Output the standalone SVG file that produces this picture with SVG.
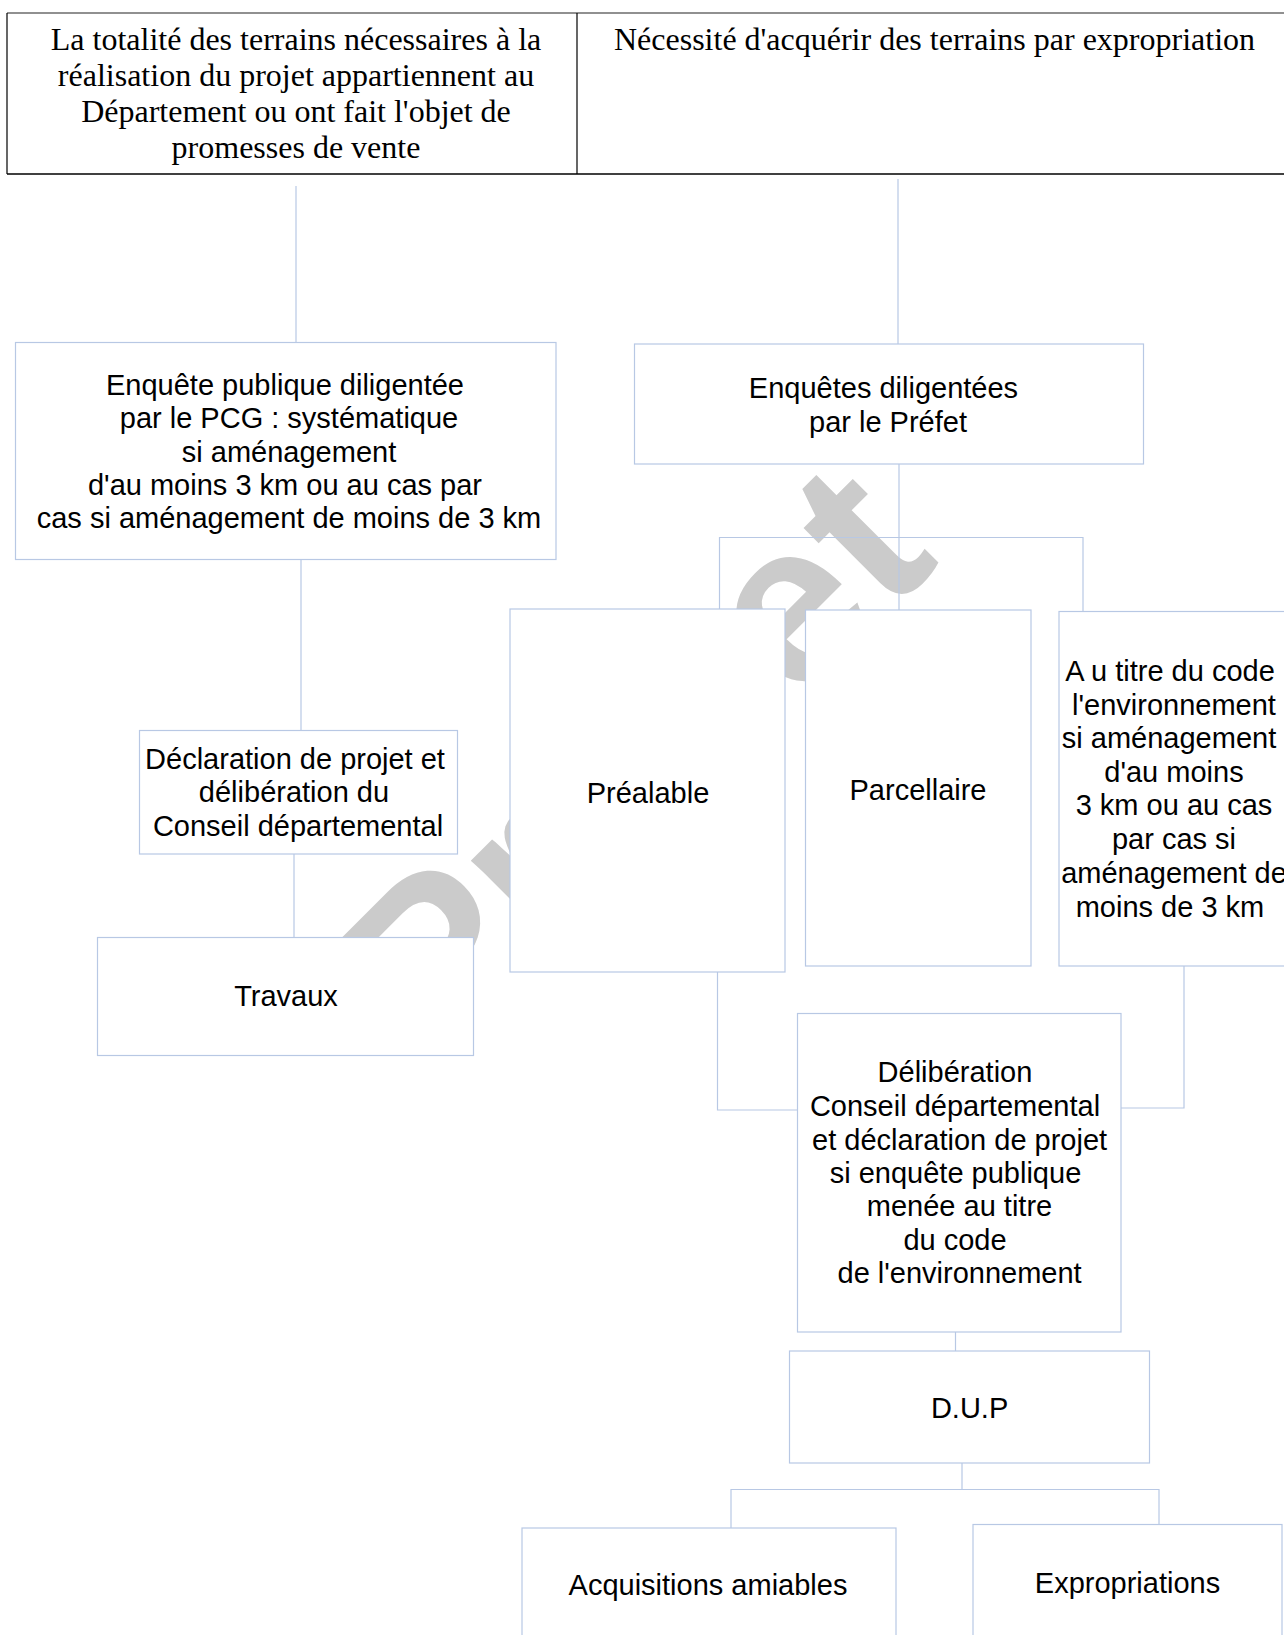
<svg xmlns="http://www.w3.org/2000/svg" width="1284" height="1635" viewBox="0 0 1284 1635">
<style>
.serif{font-family:"Liberation Serif","Times New Roman",serif;font-size:32px;fill:#000;text-anchor:middle}
.lbl{font-family:"Liberation Sans",Arial,sans-serif;font-size:29px;fill:#000;text-anchor:middle}
.box{fill:#fff;stroke:#b8c8e4;stroke-width:1.2}
.con{fill:none;stroke:#b8c8e4;stroke-width:1.2}
.wm{font-family:"Liberation Sans",Arial,sans-serif;font-weight:bold;font-size:230px;fill:#cbcbcb}
</style>
<rect width="1284" height="1635" fill="#fff"/>

<g id="watermark">
<text class="wm" transform="rotate(-45)" x="-444 -291 -192 -35 62 192" y="1063">Projet</text>
</g>

<g id="header-table">
<line x1="7" y1="13" x2="1284" y2="13" stroke="#6b6b6b" stroke-width="1.5"/>
<line x1="7" y1="174" x2="1284" y2="174" stroke="#000" stroke-width="1.3"/>
<line x1="7" y1="13" x2="7" y2="174" stroke="#000" stroke-width="1.2"/>
<line x1="577" y1="13" x2="577" y2="174" stroke="#000" stroke-width="1.2"/>
<text class="serif"><tspan x="296" y="50">La totalité des terrains nécessaires à la</tspan><tspan x="296" y="86">réalisation du projet appartiennent au</tspan><tspan x="296" y="122">Département ou ont fait l'objet de</tspan><tspan x="296" y="158">promesses de vente</tspan></text>
<text class="serif" x="934.5" y="50">Nécessité d'acquérir des terrains par expropriation</text>
</g>

<g id="connectors">
<path class="con" d="M296 186 V343"/>
<path class="con" d="M898 179 V344"/>
<path class="con" d="M301 559 V731"/>
<path class="con" d="M294 854 V938"/>
<path class="con" d="M899 464 V610"/>
<path class="con" d="M719.5 609 V537.5 H1083 V612"/>
<path class="con" d="M717.5 972 V1110 H798"/>
<path class="con" d="M1184 966 V1108 H1121"/>
<path class="con" d="M955.5 1332 V1351"/>
<path class="con" d="M962 1463 V1490"/>
<path class="con" d="M731 1528 V1489.5 H1159 V1524"/>
</g>

<g id="node-enquete-pcg">
<rect class="box" x="15.5" y="342.5" width="540.5" height="217"/>
<text class="lbl"><tspan x="285" y="395">Enquête publique diligentée</tspan><tspan x="289" y="428">par le PCG : systématique</tspan><tspan x="289" y="462">si aménagement</tspan><tspan x="285" y="495">d'au moins 3 km ou au cas par</tspan><tspan x="289" y="528">cas si aménagement de moins de 3 km</tspan></text>
</g>

<g id="node-enquetes-prefet">
<rect class="box" x="634.5" y="344" width="509" height="120"/>
<text class="lbl"><tspan x="883.5" y="398">Enquêtes diligentées</tspan><tspan x="888" y="432">par le Préfet</tspan></text>
</g>

<g id="node-declaration">
<rect class="box" x="139.5" y="730.5" width="318" height="123.5"/>
<text class="lbl"><tspan x="295" y="769">Déclaration de projet et</tspan><tspan x="294" y="802">délibération du</tspan><tspan x="298" y="836">Conseil départemental</tspan></text>
</g>

<g id="node-travaux">
<rect class="box" x="97.5" y="937.5" width="376" height="118"/>
<text class="lbl" x="286" y="1006">Travaux</text>
</g>

<g id="node-prealable">
<rect class="box" x="510" y="609" width="275" height="363"/>
<text class="lbl" x="648" y="803">Préalable</text>
</g>

<g id="node-parcellaire">
<rect class="box" x="805.5" y="610" width="225.5" height="356"/>
<text class="lbl" x="918" y="800">Parcellaire</text>
</g>

<g id="node-environnement">
<rect class="box" x="1059" y="611.5" width="240" height="354.5"/>
<text class="lbl"><tspan x="1170" y="681">A u titre du code</tspan><tspan x="1174" y="715">l'environnement</tspan><tspan x="1169" y="748">si aménagement</tspan><tspan x="1174" y="782">d'au moins</tspan><tspan x="1174" y="815">3 km ou au cas</tspan><tspan x="1174" y="849">par cas si</tspan><tspan x="1174" y="883">aménagement de</tspan><tspan x="1170" y="917">moins de 3 km</tspan></text>
</g>

<g id="node-deliberation">
<rect class="box" x="797.5" y="1013.5" width="323.5" height="318.5"/>
<text class="lbl"><tspan x="955" y="1082">Délibération</tspan><tspan x="955" y="1115.5">Conseil départemental</tspan><tspan x="959.6" y="1150">et déclaration de projet</tspan><tspan x="955.5" y="1183">si enquête publique</tspan><tspan x="959.5" y="1216">menée au titre</tspan><tspan x="955" y="1249.5">du code</tspan><tspan x="959.6" y="1283">de l'environnement</tspan></text>
</g>

<g id="node-dup">
<rect class="box" x="789.5" y="1351" width="360" height="112"/>
<text class="lbl" x="969.6" y="1418">D.U.P</text>
</g>

<g id="node-acquisitions">
<rect class="box" x="522" y="1528" width="374" height="120"/>
<text class="lbl" x="708" y="1595">Acquisitions amiables</text>
</g>

<g id="node-expropriations">
<rect class="box" x="973" y="1524.5" width="309" height="124"/>
<text class="lbl" x="1127.5" y="1593">Expropriations</text>
</g>
</svg>
